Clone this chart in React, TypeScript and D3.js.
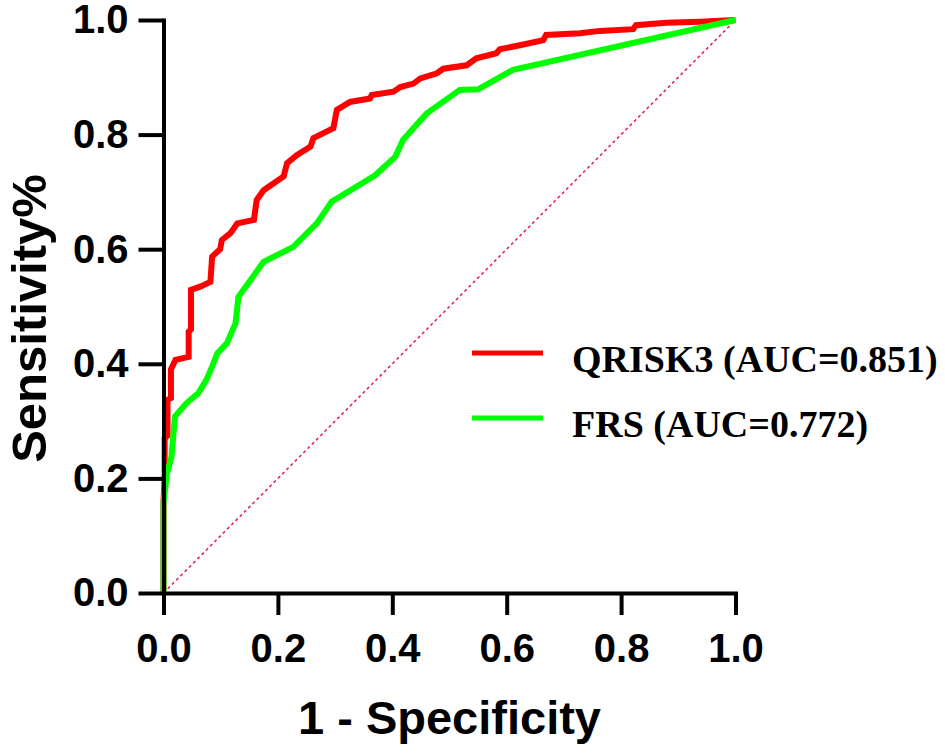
import React, { useEffect, useRef } from "react";
import * as d3 from "d3";

// ROC points: [1 - specificity, sensitivity]
const qriskPoints: [number, number][] = [
  [0, 0], [0, 0.16], [0.002, 0.2], [0.002, 0.27], [0.007, 0.275], [0.007, 0.337],
  [0.013, 0.34], [0.013, 0.39], [0.021, 0.407], [0.044, 0.412], [0.044, 0.456],
  [0.048, 0.46], [0.048, 0.529], [0.065, 0.535], [0.082, 0.543], [0.085, 0.587],
  [0.099, 0.6], [0.102, 0.616], [0.117, 0.628], [0.129, 0.645], [0.158, 0.651],
  [0.163, 0.686], [0.175, 0.703], [0.21, 0.727], [0.216, 0.75], [0.233, 0.764],
  [0.257, 0.779], [0.262, 0.794], [0.297, 0.811], [0.303, 0.843], [0.326, 0.857],
  [0.361, 0.863], [0.364, 0.869], [0.402, 0.875], [0.414, 0.883], [0.437, 0.889],
  [0.449, 0.898], [0.478, 0.907], [0.489, 0.915], [0.53, 0.921], [0.547, 0.933],
  [0.582, 0.942], [0.588, 0.949], [0.623, 0.956], [0.664, 0.965], [0.669, 0.974],
  [0.728, 0.977], [0.763, 0.981], [0.821, 0.984], [0.826, 0.991], [0.879, 0.995],
  [0.937, 0.997], [1, 1],
];

const frsPoints: [number, number][] = [
  [0, 0], [0, 0.157], [0.006, 0.209], [0.008, 0.215], [0.014, 0.238], [0.02, 0.308],
  [0.04, 0.331], [0.061, 0.349], [0.075, 0.372], [0.085, 0.395], [0.094, 0.418],
  [0.111, 0.436], [0.126, 0.471], [0.131, 0.517], [0.152, 0.546], [0.175, 0.578],
  [0.227, 0.604], [0.268, 0.645], [0.294, 0.683], [0.37, 0.729], [0.405, 0.761],
  [0.419, 0.791], [0.46, 0.837], [0.518, 0.878], [0.55, 0.879], [0.611, 0.913],
  [1, 1],
];

const referenceLine: [number, number][] = [[0, 0], [1, 1]];

const tickValues = [0, 0.2, 0.4, 0.6, 0.8, 1.0];

const seriesNames = ["QRISK3 (AUC=0.851)", "FRS (AUC=0.772)"];
const seriesColors = ["#ff0000", "#00ff00"];

const App: React.FC = () => {
  const svgRef = useRef<SVGSVGElement>(null);

  useEffect(() => {
    if (!svgRef.current) return;
    const width = 945;
    const height = 754;
    const plot = { left: 163.5, right: 735.5, top: 20, bottom: 593 };
    const sans = "'Liberation Sans', Arial, sans-serif";
    const serif = "'Liberation Serif', 'Times New Roman', serif";

    const svg = d3.select(svgRef.current);
    svg.selectAll("*").remove();
    svg.attr("width", width).attr("height", height);

    const x = d3.scaleLinear().domain([0, 1]).range([plot.left, plot.right]);
    const y = d3.scaleLinear().domain([0, 1]).range([plot.bottom, plot.top]);

    const line = d3
      .line<[number, number]>()
      .x((d) => x(d[0]))
      .y((d) => y(d[1]));

    // chance diagonal
    svg
      .append("path")
      .datum(referenceLine)
      .attr("fill", "none")
      .attr("stroke", "#e0245e")
      .attr("stroke-width", 1.6)
      .attr("stroke-dasharray", "3,3")
      .attr("d", line);

    [qriskPoints, frsPoints].forEach((pts, i) => {
      svg
        .append("path")
        .datum(pts)
        .attr("fill", "none")
        .attr("stroke", seriesColors[i])
        .attr("stroke-width", 6)
        .attr("stroke-linejoin", "miter")
        .attr("d", line);
    });

    const fmt = d3.format(".1f");

    const xAxis = svg
      .append("g")
      .attr("transform", `translate(0,${plot.bottom})`)
      .call(
        d3.axisBottom(x).tickValues(tickValues).tickFormat((d) => fmt(d as number)).tickSize(22).tickSizeOuter(0).tickPadding(19)
      );

    const yAxis = svg
      .append("g")
      .attr("transform", `translate(${plot.left},0)`)
      .call(
        d3.axisLeft(y).tickValues(tickValues).tickFormat((d) => fmt(d as number)).tickSize(25).tickSizeOuter(0).tickPadding(10)
      );

    [xAxis, yAxis].forEach((g) => {
      g.select(".domain").attr("stroke", "#000").attr("stroke-width", 4).attr("stroke-linecap", "square");
      g.selectAll(".tick line").attr("stroke", "#000").attr("stroke-width", 4);
      g.selectAll(".tick text")
        .attr("fill", "#000")
        .style("font-family", sans)
        .style("font-weight", "bold")
        .style("font-size", "40px");
    });

    svg
      .append("text")
      .attr("x", (plot.left + plot.right) / 2)
      .attr("y", 734)
      .attr("text-anchor", "middle")
      .style("font-family", sans)
      .style("font-weight", "bold")
      .style("font-size", "47px")
      .text("1 - Specificity");

    svg
      .append("text")
      .attr("transform", `translate(46,${(plot.top + plot.bottom) / 2 + 12}) rotate(-90)`)
      .attr("text-anchor", "middle")
      .style("font-family", sans)
      .style("font-weight", "bold")
      .style("font-size", "49px")
      .text("Sensitivity%");

    // legend
    const legendY = [353, 418];
    seriesNames.forEach((name, i) => {
      svg
        .append("line")
        .attr("x1", 472)
        .attr("x2", 543)
        .attr("y1", legendY[i])
        .attr("y2", legendY[i])
        .attr("stroke", seriesColors[i])
        .attr("stroke-width", 5);
      svg
        .append("text")
        .attr("x", 572)
        .attr("y", legendY[i] + 19)
        .style("font-family", serif)
        .style("font-weight", "bold")
        .style("font-size", "38px")
        .text(name);
    });
  }, []);

  return <svg ref={svgRef} style={{ position: "absolute", left: 0, top: 0 }} />;
};

export default App;
